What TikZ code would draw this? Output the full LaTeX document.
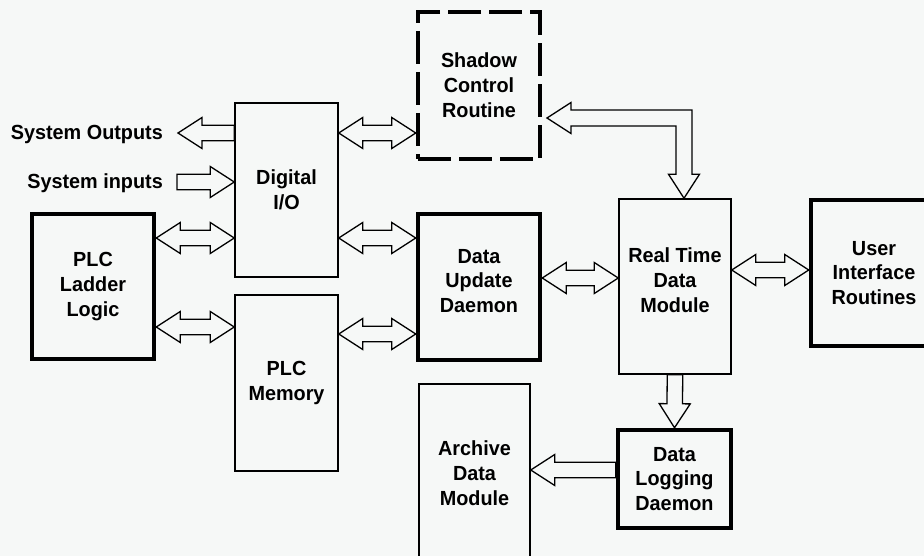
\documentclass[tikz,border=0pt]{standalone}
\usepackage{fontspec}
\usetikzlibrary{calc}
\newfontfamily\lblfont[FakeStretch=0.97]{Liberation Sans}
\definecolor{paper}{RGB}{246,248,247}
\tikzset{
  box/.style={draw, line width=1.5bp, align=center, inner sep=0pt,
    font=\lblfont\bfseries\fontsize{20.5}{25}\selectfont},
  heavybox/.style={box, line width=4.5bp},
  dashbox/.style={heavybox, dash pattern=on 33bp off 8bp},
  lbl/.style={inner sep=0pt, align=center, font=\lblfont\bfseries\fontsize{20.5}{25}\selectfont},
  % hollow block arrow, head at both ends
  dblarrow/.style={draw, fill=paper, line width=1.3bp, line join=miter,
    to path={let \p1=(\tikztostart), \p2=(\tikztotarget),
      \p3=($(\p2)!24bp!(\p1)$), \p4=($(\p1)!24bp!(\p2)$) in
      (\p1) -- ($(\p4)!15.5bp!90:(\p2)$) -- ($(\p4)!7.75bp!90:(\p2)$)
      -- ($(\p3)!7.75bp!90:(\p2)$) -- ($(\p3)!15.5bp!90:(\p2)$) -- (\p2)
      -- ($(\p3)!15.5bp!-90:(\p2)$) -- ($(\p3)!7.75bp!-90:(\p2)$)
      -- ($(\p4)!7.75bp!-90:(\p2)$) -- ($(\p4)!15.5bp!-90:(\p2)$) -- cycle}},
  % hollow block arrow, head at the target only
  onearrow/.style={draw, fill=paper, line width=1.3bp, line join=miter,
    to path={let \p1=(\tikztostart), \p2=(\tikztotarget),
      \p3=($(\p2)!24bp!(\p1)$) in
      ($(\p1)!7.75bp!90:(\p2)$) -- ($(\p3)!7.75bp!90:(\p2)$)
      -- ($(\p3)!15.5bp!90:(\p2)$) -- (\p2) -- ($(\p3)!15.5bp!-90:(\p2)$)
      -- ($(\p3)!7.75bp!-90:(\p2)$) -- ($(\p1)!7.75bp!-90:(\p2)$) -- cycle}}
}
\begin{document}
\begin{tikzpicture}[x=1bp, y=-1bp]
    \useasboundingbox (0,0) rectangle (924,556);
    \clip (0,0) rectangle (924,556);
    \fill[paper] (0,0) rectangle (924,556);

    % Draw the PLC side
    \node[heavybox, minimum width=122bp, minimum height=145bp] (ladder) at (93,286.5) {PLC\\Ladder\\Logic};
    \node[box, minimum width=103bp, minimum height=174bp] (dio) at (286.5,190) {Digital\\I/O};
    \node[box, minimum width=103bp, minimum height=176bp] (mem) at (286.5,383) {PLC\\Memory};

    % Draw the daemons and routines
    \node[dashbox, minimum width=122bp, minimum height=147bp] (shadow) at (479,85.5) {Shadow\\Control\\Routine};
    \node[heavybox, minimum width=122bp, minimum height=146bp,
      label={[lbl, yshift=6bp]center:Data\\Update\\Daemon}] (upd) at (479,287) {};
    \node[box, minimum width=111bp, minimum height=178bp] (arch) at (474.5,473) {Archive\\Data\\Module};
    \node[box, minimum width=112bp, minimum height=175bp,
      label={[lbl, yshift=6bp]center:Real Time\\Data\\Module}] (rt) at (675,286.5) {};
    \node[heavybox, minimum width=113bp, minimum height=98bp] (log) at (674.5,479) {Data\\Logging\\Daemon};
    \node[heavybox, minimum width=126bp, minimum height=146bp] (ui) at (874,273) {User\\Interface\\Routines};

    % System signals
    \node[lbl, anchor=base east] (outs) at (163,140) {System Outputs};
    \node[lbl, anchor=base east] (ins) at (163,189) {System inputs};
    \coordinate (outtip) at (178,133);
    \coordinate (intail) at (177,182);
    \coordinate (shtip) at (547,118);

    % Draw all arrows
    \draw[onearrow] (dio.west |- 0,133) to (outtip);
    \draw[onearrow] (intail) to (dio.west |- 0,182);
    \draw[dblarrow] (ladder.east |- 0,238) to (dio.west |- 0,238);
    \draw[dblarrow] (ladder.east |- 0,327) to (mem.west |- 0,327);
    \draw[dblarrow] (dio.east |- 0,133) to (shadow.west |- 0,133);
    \draw[dblarrow] (dio.east |- 0,238) to (upd.west |- 0,238);
    \draw[dblarrow] (mem.east |- 0,334) to (upd.west |- 0,334);
    \draw[dblarrow] (upd.east |- 0,278) to (rt.west |- 0,278);
    \draw[dblarrow] (rt.east |- 0,270) to (ui.west |- 0,270);
    \draw[onearrow] (rt.south) to (log.north);
    \draw[onearrow] (log.west |- 0,470) to (arch.east |- 0,470);

    % Elbow arrow between shadow routine and real time module
    \draw[fill=paper, line width=1.3bp, line join=miter]
      let \p1=(shtip), \p2=([xshift=9bp]rt.north) in
      (\p1) -- (\x1+24bp,\y1+15.5bp) -- (\x1+24bp,\y1+8bp) -- (\x2+8bp,\y1+8bp)
      -- (\x2+8bp,\y2+24bp) -- (\x2+15.5bp,\y2+24bp) -- (\p2)
      -- (\x2-15.5bp,\y2+24bp) -- (\x2-8bp,\y2+24bp) -- (\x2-8bp,\y1-8bp)
      -- (\x1+24bp,\y1-8bp) -- (\x1+24bp,\y1-15.5bp) -- cycle;

\end{tikzpicture}
\end{document}
